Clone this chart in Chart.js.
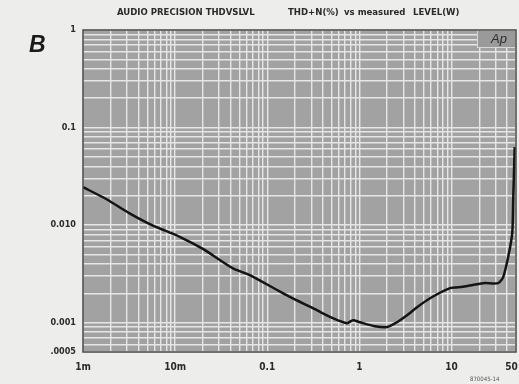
<!DOCTYPE html>
<html>
<head>
<meta charset="utf-8">
<script src="https://cdn.jsdelivr.net/npm/chart.js@4/dist/chart.umd.min.js"></script>
<style>
  html, body { margin: 0; padding: 0; background: #ededeb; }
  canvas { display: block; }
</style>
</head>
<body>
<canvas id="thdChart" width="519" height="384"></canvas>
<script>
// Measured THD+N (%) against output level (W)
const levelW = [0.001, 0.0018, 0.0032, 0.0056, 0.0112, 0.02, 0.0425, 0.0646, 0.147, 0.345, 0.515, 0.731, 0.85, 1.01, 1.47, 1.99, 2.56, 3.28, 4.22, 5.84, 9.63, 13.3, 22.0, 32.0, 36.3, 41.1, 45.5, 46.6, 48.4];
const thdPct = [0.0245, 0.0184, 0.0132, 0.0100, 0.00759, 0.0057, 0.0036, 0.00307, 0.00201, 0.00134, 0.00111, 0.000988, 0.00106, 0.00101, 0.00092, 0.0009, 0.00101, 0.00119, 0.00144, 0.00178, 0.00226, 0.00233, 0.00254, 0.00254, 0.00293, 0.0047, 0.00828, 0.018, 0.063];

// Axis labels (last one nudged left so it stays inside the page)
const xLabelValues = [0.001, 0.01, 0.1, 1, 10, 50];
const xLabelText = ['1m', '10m', '0.1', '1', '10', '50\u2002\u2002'];
const yLabelValues = [1, 0.1, 0.01, 0.001, 0.0005];
const yLabelText = ['1', '0.1', '0.010', '0.001', '.0005'];

// Log grid (1..9 per decade) within the axis range
function logGrid(min, max) {
    const out = [];
    for (let e = -4; e <= 2; e++) {
        for (let m = 1; m <= 9; m++) {
            const v = parseFloat((m * Math.pow(10, e)).toPrecision(3));
            if (v >= min * 0.999 && v <= max * 1.001) out.push(v);
        }
    }
    return out;
}

function labelFor(values, texts, v) {
    for (let i = 0; i < values.length; i++) {
        if (Math.abs(values[i] - v) / values[i] < 1e-6) return texts[i];
    }
    return '';
}

const narrow = "'Liberation Sans Narrow', 'DejaVu Sans Condensed', 'Liberation Sans', sans-serif";

const decorPlugin = {
    id: 'decor',
    beforeDraw(chart) {
        const { ctx, chartArea: a } = chart;
        ctx.save();
        ctx.fillStyle = '#a2a2a2';
        ctx.fillRect(a.left, a.top, a.right - a.left, a.bottom - a.top);
        ctx.restore();
    },
    afterDraw(chart) {
        const { ctx, chartArea: a } = chart;
        ctx.save();
        // "Ap" badge
        ctx.fillStyle = '#9a9a9a';
        ctx.fillRect(a.right - 38, a.top, 38, 17);
        ctx.strokeStyle = '#d8d8d8';
        ctx.lineWidth = 1;
        ctx.strokeRect(a.right - 38.5, a.top + 0.5, 38, 17);
        ctx.fillStyle = '#2e2e2e';
        ctx.font = "italic 13px 'Liberation Sans', Arial, sans-serif";
        ctx.textAlign = 'center';
        ctx.textBaseline = 'middle';
        ctx.fillText('Ap', a.right - 17, a.top + 9);

        // plot frame
        ctx.strokeStyle = '#4a4a4a';
        ctx.lineWidth = 1.5;
        ctx.strokeRect(a.left, a.top, a.right - a.left, a.bottom - a.top);

        // header
        ctx.fillStyle = '#2a2a2a';
        ctx.font = 'bold 9.5px ' + narrow;
        ctx.textAlign = 'left';
        ctx.textBaseline = 'middle';
        ctx.fillText('AUDIO PRECISION THDVSLVL', 117, 13);
        ctx.fillText('THD+N(%)', 288, 13);
        ctx.fillText('vs measured', 344, 13);
        ctx.fillText('LEVEL(W)', 413, 13);

        // panel letter
        ctx.fillStyle = '#1a1a1a';
        ctx.font = "italic bold 23px 'Liberation Sans', Arial, sans-serif";
        ctx.fillText('B', 29, 46);

        // figure number
        ctx.fillStyle = '#555';
        ctx.font = '6px ' + narrow;
        ctx.fillText('870045-14', 470, 379);
        ctx.restore();
    }
};

const ctx = document.getElementById('thdChart').getContext('2d');
const chart = new Chart(ctx, {
    type: 'line',
    data: {
        datasets: [{
            data: levelW.map((x, i) => ({ x: x, y: thdPct[i] })),
            borderColor: '#141414',
            borderWidth: 2.5,
            pointRadius: 0,
            tension: 0.25,
            fill: false
        }]
    },
    options: {
        responsive: false,
        animation: false,
        layout: { padding: { top: 30, right: 3, left: 0, bottom: 0 } },
        plugins: {
            legend: { display: false },
            tooltip: { enabled: false }
        },
        scales: {
            x: {
                type: 'logarithmic',
                min: 0.001,
                max: 50,
                afterBuildTicks: s => { s.ticks = logGrid(0.001, 50).map(v => ({ value: v })); },
                afterFit: s => { s.height = 32; s.paddingLeft = 0; s.paddingRight = 0; },
                grid: { color: '#e6e6e6', lineWidth: 1.4, drawTicks: false },
                border: { display: false },
                ticks: {
                    autoSkip: false,
                    maxRotation: 0,
                    padding: 9,
                    color: '#2a2a2a',
                    font: { family: narrow, size: 10, weight: 'bold' },
                    callback: v => labelFor(xLabelValues, xLabelText, v)
                }
            },
            y: {
                type: 'logarithmic',
                min: 0.0005,
                max: 1,
                afterBuildTicks: s => { s.ticks = logGrid(0.0005, 1).map(v => ({ value: v })); },
                afterFit: s => { s.width = 83; s.paddingTop = 0; s.paddingBottom = 0; },
                grid: { color: '#e6e6e6', lineWidth: 1.4, drawTicks: false },
                border: { display: false },
                ticks: {
                    autoSkip: false,
                    padding: 7,
                    color: '#2a2a2a',
                    font: { family: narrow, size: 9, weight: 'bold' },
                    callback: v => labelFor(yLabelValues, yLabelText, v)
                }
            }
        }
    },
    plugins: [decorPlugin]
});
</script>
</body>
</html>
